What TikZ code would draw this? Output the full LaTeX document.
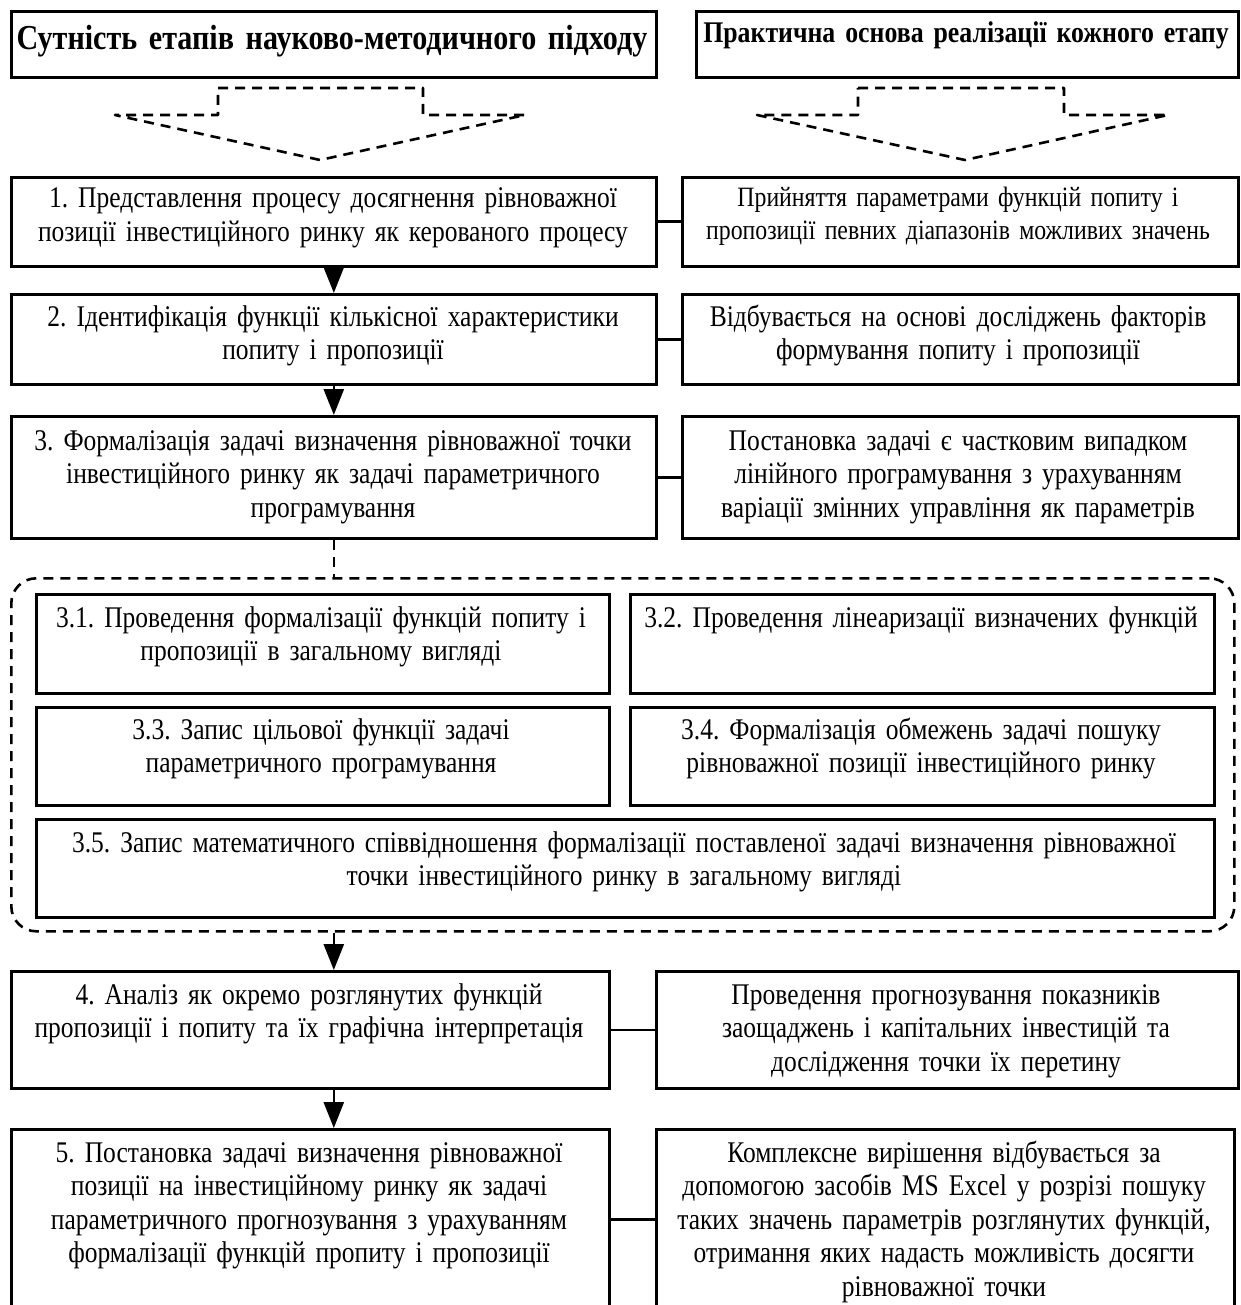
\documentclass[tikz,border=0pt]{standalone}
\usepackage{fontspec}
\setmainfont{Liberation Serif}[FakeStretch=0.85]
\newfontfamily\ttlfont{Liberation Serif}[FakeStretch=0.86]
\usetikzlibrary{arrows.meta}
\frenchspacing
\begin{document}
\frenchspacing
\begin{tikzpicture}[x=1pt,y=-1pt,
  box/.style={draw, line width=2.6pt, fill=white, anchor=north west, inner sep=0pt},
  txt/.style={font=\frenchspacing\fontsize{30}{33.5}\selectfont, align=center, inner sep=0pt, anchor=base},
  small/.style={font=\frenchspacing\fontsize{28}{33}\selectfont},
  ttl/.style={font=\frenchspacing\ttlfont\bfseries\fontsize{35}{38}\selectfont, align=center, inner sep=0pt, anchor=base},
  ttlb/.style={font=\frenchspacing\ttlfont\bfseries\fontsize{30}{34}\selectfont},
  conn/.style={line width=2.6pt},
  arr/.style={line width=2.6pt, -{Triangle[width=20pt,length=26pt]}},
  dsh/.style={line width=2.6pt, dash pattern=on 10pt off 7pt, line join=round}]
\useasboundingbox[fill=white] (0,0) rectangle (1240,1305);
% titles
\node[box, minimum width=645pt, minimum height=66pt] (TL) at (10,10) {};
\node[box, minimum width=542pt, minimum height=66pt] (TR) at (695,10) {};
\node[ttl, text width=640pt] (tTL) at (332,50) {Сутність етапів науково-методичного підходу};
\node[ttl, ttlb, text width=540pt] (tTR) at (966,43) {Практична основа реалізації кожного етапу};
% dashed block arrows
\draw[dsh] (218,88) -- (423,88) -- (423,115) -- (525,115) -- (320,160) -- (115,115) -- (218,115) -- cycle;
\draw[dsh] (858,88) -- (1064,88) -- (1064,115) -- (1168,115) -- (965,160) -- (757,115) -- (858,115) -- cycle;
% row 1
\node[box, minimum width=645pt, minimum height=89pt] (L1) at (10,176) {};
\node[box, minimum width=556pt, minimum height=89pt] (R1) at (681,176) {};
\node[txt, text width=640pt] (tL1) at (333,208) {1. Представлення процесу досягнення рівноважної\\позиції інвестиційного ринку як керованого процесу};
\node[txt, small, text width=550pt] (tR1) at (958,207) {Прийняття параметрами функцій попиту і\\пропозиції певних діапазонів можливих значень};
% row 2
\node[box, minimum width=645pt, minimum height=90pt] (L2) at (10,293) {};
\node[box, minimum width=556pt, minimum height=90pt] (R2) at (681,293) {};
\node[txt, text width=640pt] (tL2) at (333,326) {2. Ідентифікація функції кількісної характеристики\\попиту і пропозиції};
\node[txt, text width=550pt] (tR2) at (958,326) {Відбувається на основі досліджень факторів\\формування попиту і пропозиції};
% row 3
\node[box, minimum width=645pt, minimum height=122pt] (L3) at (10,415) {};
\node[box, minimum width=556pt, minimum height=122pt] (R3) at (681,415) {};
\node[txt, text width=640pt] (tL3) at (333,450) {3. Формалізація задачі визначення рівноважної точки\\інвестиційного ринку як задачі параметричного\\програмування};
\node[txt, text width=550pt] (tR3) at (958,450) {Постановка задачі є частковим випадком\\лінійного програмування з урахуванням\\варіації змінних управління як параметрів};
% dashed frame
\node[draw, dsh, rounded corners=25pt, anchor=north west, inner sep=0pt, minimum width=1223pt, minimum height=353pt] (F) at (10,577) {};
\node[box, minimum width=573pt, minimum height=99pt] (S1) at (35,593) {};
\node[box, minimum width=584pt, minimum height=99pt] (S2) at (629,593) {};
\node[box, minimum width=573pt, minimum height=98pt] (S3) at (35,706) {};
\node[box, minimum width=584pt, minimum height=98pt] (S4) at (629,706) {};
\node[box, minimum width=1178pt, minimum height=98pt] (S5) at (35,818) {};
\node[txt, text width=570pt] (tS1) at (321,627) {3.1. Проведення формалізації функцій попиту і\\пропозиції в загальному вигляді};
\node[txt, text width=580pt] (tS2) at (921,627) {3.2. Проведення лінеаризації визначених функцій};
\node[txt, text width=570pt] (tS3) at (321,739) {3.3. Запис цільової функції задачі\\параметричного програмування};
\node[txt, text width=580pt] (tS4) at (921,739) {3.4. Формалізація обмежень задачі пошуку\\рівноважної позиції інвестиційного ринку};
\node[txt, text width=1170pt] (tS5) at (624,852) {3.5. Запис математичного співвідношення формалізації поставленої задачі визначення рівноважної\\точки інвестиційного ринку в загальному вигляді};
% row 4
\node[box, minimum width=598pt, minimum height=117pt] (L4) at (10,970) {};
\node[box, minimum width=582pt, minimum height=117pt] (R4) at (655,970) {};
\node[txt, text width=595pt] (tL4) at (309,1004) {4. Аналіз як окремо розглянутих функцій\\пропозиції і попиту та їх графічна інтерпретація};
\node[txt, text width=578pt] (tR4) at (946,1004) {Проведення прогнозування показників\\заощаджень і капітальних інвестицій та\\дослідження точки їх перетину};
% row 5
\node[box, minimum width=598pt, minimum height=180pt] (L5) at (10,1128) {};
\node[box, minimum width=578pt, minimum height=180pt] (R5) at (655,1128) {};
\node[txt, text width=595pt] (tL5) at (309,1162) {5. Постановка задачі визначення рівноважної\\позиції на інвестиційному ринку як задачі\\параметричного прогнозування з урахуванням\\формалізації функцій пропиту і пропозиції};
\node[txt, text width=575pt] (tR5) at (944,1162) {Комплексне вирішення відбувається за\\допомогою засобів MS Excel у розрізі пошуку\\таких значень параметрів розглянутих функцій,\\отримання яких надасть можливість досягти\\рівноважної точки};
% connectors
\draw[conn] (L1.east) -- (R1.west);
\draw[conn] (L2.east) -- (R2.west);
\draw[conn] (L3.east) -- (R3.west);
\draw[conn] (L4.east) -- (R4.west);
\draw[conn] (L5.east) -- (R5.west);
% arrows
\draw[arr] (L1.south) -- (L2.north);
\draw[arr] (L2.south) -- (L3.north);
\draw[dsh] (L3.south) -- (F.north -| L3.south);
\draw[arr] (F.south -| L3.south) -- (L4.north -| L3.south);
\draw[arr] (L4.south -| L3.south) -- (L5.north -| L3.south);
\end{tikzpicture}
\end{document}
